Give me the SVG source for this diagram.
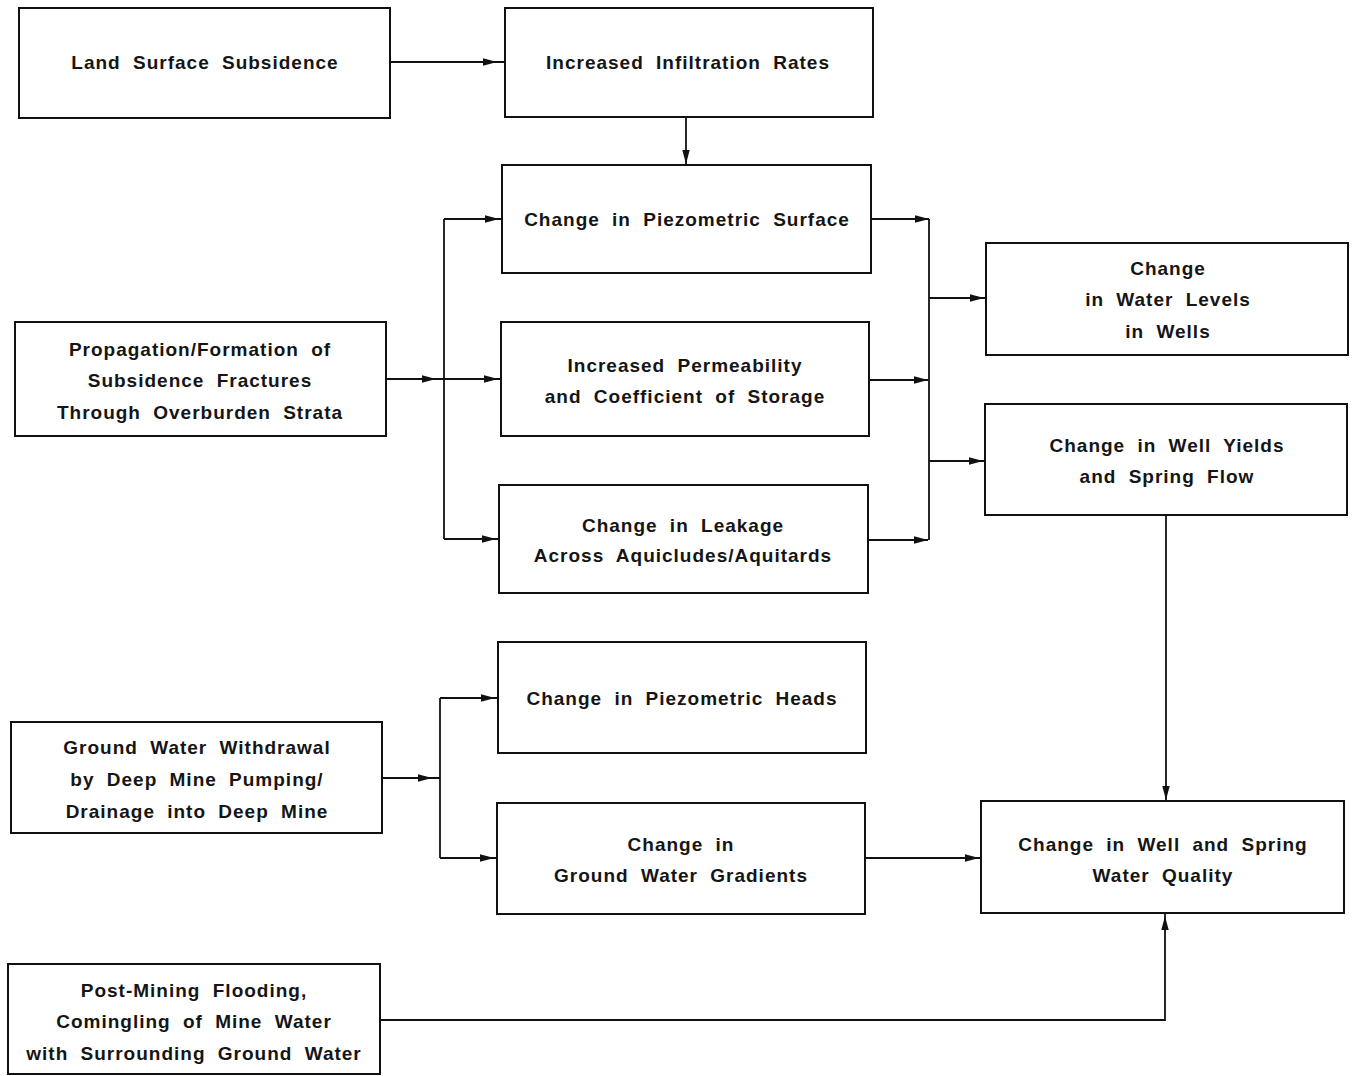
<svg xmlns="http://www.w3.org/2000/svg" width="1356" height="1076" viewBox="0 0 1356 1076">
<defs>
<style>
.box{fill:#fff;stroke:#111;stroke-width:2}
.t{font-family:"Liberation Sans",Arial,sans-serif;font-size:19px;font-weight:bold;fill:#151515;text-anchor:middle;word-spacing:6px;letter-spacing:1px}
.c{fill:none;stroke:#111;stroke-width:1.8}
.a{marker-end:url(#ah)}
.b{marker-end:url(#at)}
</style>
<marker id="ah" markerUnits="userSpaceOnUse" markerWidth="30" markerHeight="10" viewBox="0 0 30 10" refX="23" refY="5" orient="auto">
<path d="M1,1.3 L15,5 L1,8.7 Z" fill="#111"/>
</marker>
<marker id="at" markerUnits="userSpaceOnUse" markerWidth="30" markerHeight="10" viewBox="0 0 30 10" refX="15" refY="5" orient="auto">
<path d="M1,1.3 L15,5 L1,8.7 Z" fill="#111"/>
</marker>
</defs>
<rect width="1356" height="1076" fill="#fff"/>
<g id="connectors">
<line class="c a" x1="390" y1="62" x2="505" y2="62"/>
<line class="c a" x1="686" y1="117" x2="686" y2="172"/>
<line class="c a" x1="386" y1="379" x2="444" y2="379"/>
<path class="c" d="M444,219 V539"/>
<line class="c a" x1="444" y1="219" x2="507" y2="219"/>
<line class="c a" x1="444" y1="379" x2="506" y2="379"/>
<line class="c a" x1="444" y1="539" x2="504" y2="539"/>
<line class="c b" x1="871" y1="219" x2="929" y2="219"/>
<line class="c b" x1="869" y1="380" x2="928" y2="380"/>
<line class="c b" x1="868" y1="540" x2="928" y2="540"/>
<path class="c" d="M929,219 V540"/>
<line class="c a" x1="929" y1="298" x2="992" y2="298"/>
<line class="c a" x1="929" y1="461" x2="991" y2="461"/>
<line class="c a" x1="382" y1="778" x2="440" y2="778"/>
<path class="c" d="M440,698 V858"/>
<line class="c a" x1="440" y1="698" x2="503" y2="698"/>
<line class="c a" x1="440" y1="858" x2="502" y2="858"/>
<line class="c a" x1="865" y1="858" x2="987" y2="858"/>
<line class="c a" x1="1166" y1="515" x2="1166" y2="808"/>
<path class="c a" d="M380,1020 H1165 V908"/>
</g>
<g id="n1"><rect class="box" x="19" y="8" width="371" height="110"/><text class="t" x="205" y="69">Land Surface Subsidence</text></g>
<g id="n2"><rect class="box" x="505" y="8" width="368" height="109"/><text class="t" x="688" y="69">Increased Infiltration Rates</text></g>
<g id="n3"><rect class="box" x="502" y="165" width="369" height="108"/><text class="t" x="687" y="226">Change in Piezometric Surface</text></g>
<g id="n4"><rect class="box" x="15" y="322" width="371" height="114"/><text class="t" x="200" y="356">Propagation/Formation of</text><text class="t" x="200" y="387">Subsidence Fractures</text><text class="t" x="200" y="419">Through Overburden Strata</text></g>
<g id="n5"><rect class="box" x="501" y="322" width="368" height="114"/><text class="t" x="685" y="372">Increased Permeability</text><text class="t" x="685" y="403">and Coefficient of Storage</text></g>
<g id="n6"><rect class="box" x="499" y="485" width="369" height="108"/><text class="t" x="683" y="532">Change in Leakage</text><text class="t" x="683" y="562">Across Aquicludes/Aquitards</text></g>
<g id="n7"><rect class="box" x="986" y="243" width="362" height="112"/><text class="t" x="1168" y="275">Change</text><text class="t" x="1168" y="306">in Water Levels</text><text class="t" x="1168" y="338">in Wells</text></g>
<g id="n8"><rect class="box" x="985" y="404" width="362" height="111"/><text class="t" x="1167" y="452">Change in Well Yields</text><text class="t" x="1167" y="483">and Spring Flow</text></g>
<g id="n9"><rect class="box" x="498" y="642" width="368" height="111"/><text class="t" x="682" y="705">Change in Piezometric Heads</text></g>
<g id="n10"><rect class="box" x="11" y="722" width="371" height="111"/><text class="t" x="197" y="754">Ground Water Withdrawal</text><text class="t" x="197" y="786">by Deep Mine Pumping/</text><text class="t" x="197" y="818">Drainage into Deep Mine</text></g>
<g id="n11"><rect class="box" x="497" y="803" width="368" height="111"/><text class="t" x="681" y="851">Change in</text><text class="t" x="681" y="882">Ground Water Gradients</text></g>
<g id="n12"><rect class="box" x="981" y="801" width="363" height="112"/><text class="t" x="1163" y="851">Change in Well and Spring</text><text class="t" x="1163" y="882">Water Quality</text></g>
<g id="n13"><rect class="box" x="8" y="964" width="372" height="110"/><text class="t" x="194" y="997">Post-Mining Flooding,</text><text class="t" x="194" y="1028">Comingling of Mine Water</text><text class="t" x="194" y="1060">with Surrounding Ground Water</text></g>
</svg>
